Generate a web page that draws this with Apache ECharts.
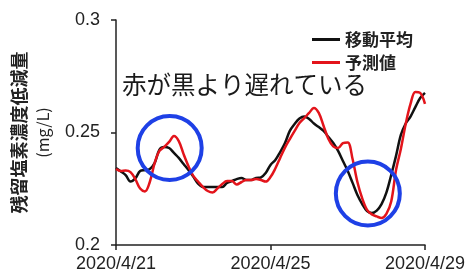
<!DOCTYPE html>
<html>
<head>
<meta charset="utf-8">
<script src="https://cdn.jsdelivr.net/npm/echarts@6/dist/echarts.min.js"></script>
<style>
  html, body { margin: 0; padding: 0; background: #fff; }
  #chart { width: 470px; height: 277px; }
</style>
</head>
<body>
<div id="chart"></div>
<script>
// sampled every 3 hours from 2020/4/21 00:00 to 2020/4/29 00:00
const stepHours = 3
const xTickLabels = ['2020/4/21', '2020/4/25', '2020/4/29']
const yTicks = [0.2, 0.25, 0.3]
const seriesNames = ['移動平均', '予測値']

const movingAvg = [
  0.2342, 0.2327, 0.2311, 0.2282, 0.2296, 0.2329, 0.2333, 0.2338, 0.2364, 0.2424,
  0.2436, 0.2431, 0.2409, 0.2387, 0.2360, 0.2333, 0.2304, 0.2273, 0.2258, 0.2258,
  0.2258, 0.2258, 0.2258, 0.2276, 0.2284, 0.2293, 0.2298, 0.2289, 0.2289, 0.2298,
  0.2300, 0.2320, 0.2356, 0.2378, 0.2413, 0.2453, 0.2507, 0.2538, 0.2562, 0.2571,
  0.2560, 0.2540, 0.2524, 0.2507, 0.2480, 0.2453, 0.2418, 0.2373, 0.2329, 0.2276,
  0.2222, 0.2182, 0.2151, 0.2142, 0.2153, 0.2182, 0.2233, 0.2311, 0.2396, 0.2489,
  0.2540, 0.2571, 0.2613, 0.2653, 0.2676
]
const predicted = [
  0.2338, 0.2329, 0.2331, 0.2324, 0.2293, 0.2251, 0.2238, 0.2280, 0.2364, 0.2418,
  0.2436, 0.2458, 0.2484, 0.2462, 0.2404, 0.2351, 0.2307, 0.2282, 0.2258, 0.2240,
  0.2233, 0.2251, 0.2271, 0.2284, 0.2284, 0.2269, 0.2280, 0.2289, 0.2289, 0.2293,
  0.2289, 0.2282, 0.2302, 0.2340, 0.2387, 0.2433, 0.2471, 0.2507, 0.2542, 0.2564,
  0.2587, 0.2609, 0.2587, 0.2529, 0.2471, 0.2438, 0.2431, 0.2453, 0.2456, 0.2382,
  0.2280, 0.2207, 0.2156, 0.2136, 0.2127, 0.2120, 0.2138, 0.2193, 0.2333, 0.2427,
  0.2538, 0.2627, 0.2680, 0.2676, 0.2627
]
// blue circles, in data coords [day, value]
const circleCenters = [[1.39, 0.2431], [6.52, 0.2229]]
const note = '赤が黒より遅れている'

const toPairs = arr => arr.map((v, i) => [i * stepHours / 24, v])

const chart = echarts.init(document.getElementById('chart'), null, { renderer: 'canvas' })
const font = '"Liberation Sans", "Noto Sans CJK JP", sans-serif'
const cjk = '"Noto Sans CJK JP", sans-serif'

chart.setOption({
  animation: false,
  backgroundColor: '#fff',
  grid: { left: 116, right: 45, top: 20, bottom: 32 },
  legend: {
    orient: 'vertical',
    left: 307,
    top: 26,
    itemGap: 6,
    itemWidth: 28,
    itemHeight: 3,
    data: [
      { name: seriesNames[0], icon: 'rect' },
      { name: seriesNames[1], icon: 'rect' }
    ],
    textStyle: { fontFamily: cjk, fontSize: 17, fontWeight: 'bold', color: '#222' }
  },
  graphic: [{
    type: 'text',
    left: 122,
    top: 72,
    style: { text: note, fontFamily: cjk, fontSize: 24.5, fill: '#1a1a1a' }
  }],
  xAxis: {
    type: 'value',
    min: 0,
    max: 8,
    interval: 4,
    splitLine: { show: false },
    axisLine: { lineStyle: { color: '#222', width: 1.5 } },
    axisTick: { length: 5, lineStyle: { color: '#222', width: 1.5 } },
    axisLabel: {
      margin: 10,
      fontFamily: font,
      fontSize: 18,
      color: '#222',
      formatter: v => xTickLabels[Math.round(v / 4)]
    }
  },
  yAxis: {
    type: 'value',
    min: yTicks[0],
    max: yTicks[yTicks.length - 1],
    interval: 0.05,
    splitLine: { show: false },
    axisLine: { show: true, lineStyle: { color: '#222', width: 1.5 } },
    axisTick: { show: true, length: 5, lineStyle: { color: '#222', width: 1.5 } },
    axisLabel: {
      margin: 16,
      fontFamily: font,
      fontSize: 18,
      color: '#222',
      formatter: v => String(+v.toFixed(2))
    },
    name: '{t|残留塩素濃度低減量}\n{u|(mg/L)}',
    nameLocation: 'middle',
    nameRotate: 90,
    nameGap: 61,
    nameTextStyle: {
      rich: {
        t: { fontFamily: cjk, fontSize: 18, fontWeight: 'bold', color: '#222', lineHeight: 24 },
        u: { fontFamily: cjk, fontSize: 16, color: '#222', lineHeight: 24 }
      }
    }
  },
  series: [
    {
      name: seriesNames[0],
      type: 'line',
      data: toPairs(movingAvg),
      showSymbol: false,
      smooth: 0.35,
      lineStyle: { color: '#111', width: 2.5 },
      itemStyle: { color: '#111' },
      markPoint: {
        silent: true,
        symbol: 'circle',
        symbolSize: 64,
        label: { show: false },
        itemStyle: { color: 'rgba(0,0,0,0)', borderColor: '#1e40e6', borderWidth: 4 },
        data: circleCenters.map(c => ({ coord: c }))
      }
    },
    {
      name: seriesNames[1],
      type: 'line',
      data: toPairs(predicted),
      showSymbol: false,
      smooth: 0.35,
      lineStyle: { color: '#e3141b', width: 2.5 },
      itemStyle: { color: '#e3141b' }
    }
  ]
})
</script>
</body>
</html>
